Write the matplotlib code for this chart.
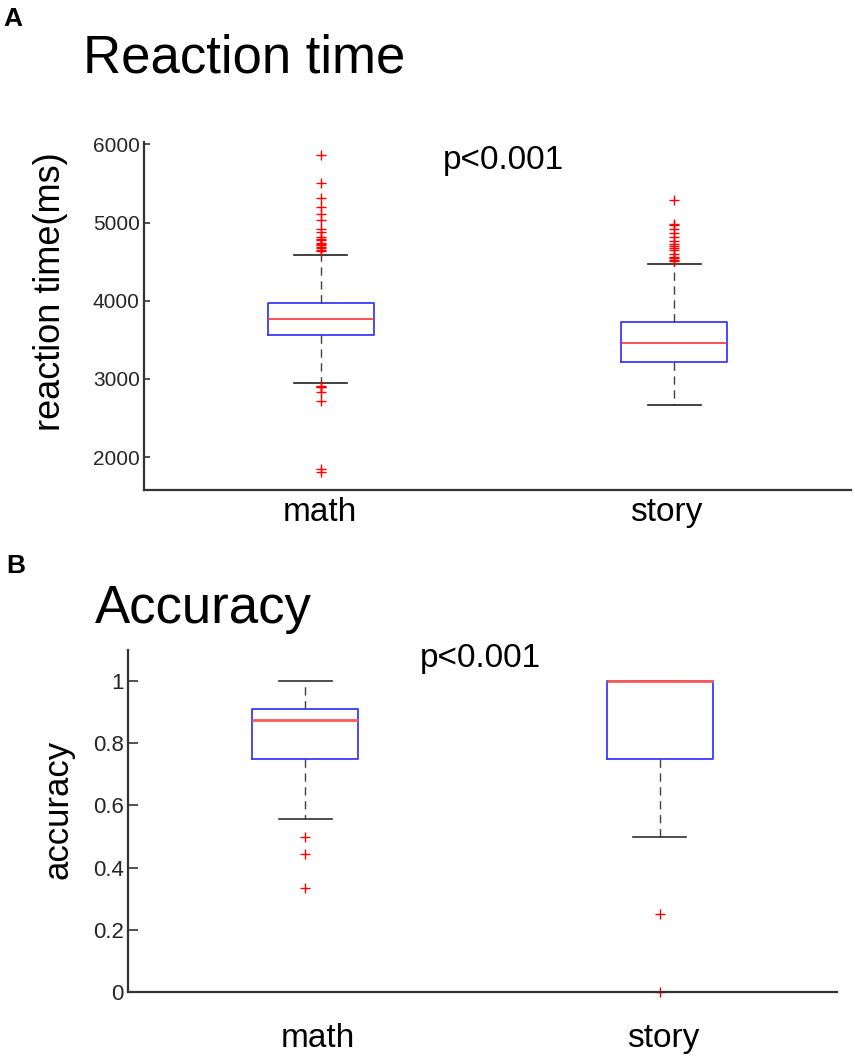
import matplotlib
matplotlib.use("Agg")
import matplotlib.pyplot as plt
import matplotlib.transforms as mtransforms

plt.rcParams['font.family'] = ['Liberation Sans', 'DejaVu Sans']

# ---------------- data ----------------
categories = ["math", "story"]

# Panel A: reaction time (ms)
rt_whislo = [2945, 2670]
rt_q1 = [3565, 3216]
rt_med = [3761, 3459]
rt_q3 = [3974, 3727]
rt_whishi = [4588, 4469]
rt_fliers_math = [5864, 5505, 5317, 5193, 5112, 5027, 4917, 4873, 4810, 4789,
                  4770, 4738, 4720, 4707, 4690, 4673, 4650, 4630,
                  2913, 2900, 2891, 2832, 2712, 1846, 1804]
rt_fliers_story = [5292, 4980, 4963, 4917, 4866, 4815, 4758, 4730, 4703, 4673,
                   4642, 4600, 4565, 4540, 4524, 4503]
rt_ticks = [2000, 3000, 4000, 5000, 6000]

# Panel B: accuracy
acc_whislo = [0.555, 0.5]
acc_q1 = [0.75, 0.75]
acc_med = [0.874, 1.0]
acc_q3 = [0.91, 1.0]
acc_whishi = [1.0, 1.0]
acc_fliers_math = [0.5, 0.444, 0.333]
acc_fliers_story = [0.25, 0.0]
acc_ticks = [0, 0.2, 0.4, 0.6, 0.8, 1]
acc_ticklabels = ["0", "0.2", "0.4", "0.6", "0.8", "1"]

W, H = 855, 1056
fig = plt.figure(figsize=(W / 100, H / 100), dpi=100)


def px_axes(x0, x1, ytop, ybot):
    return fig.add_axes([x0 / W, 1 - ybot / H, (x1 - x0) / W, (ybot - ytop) / H])


def make_stats(whislo, q1, med, q3, whishi, fliers):
    stats = []
    for i in range(len(q1)):
        stats.append(dict(whislo=whislo[i], q1=q1[i], med=med[i], q3=q3[i],
                          whishi=whishi[i], fliers=fliers[i], label=categories[i]))
    return stats


def style_axes(ax, ticksize, ticklen, xpad):
    for s in ['top', 'right']:
        ax.spines[s].set_visible(False)
    for s in ['left', 'bottom']:
        ax.spines[s].set_color('#333333')
        ax.spines[s].set_linewidth(1.6)
    ax.tick_params(axis='y', direction='in', length=ticklen, width=1.2,
                   color='#333333', labelsize=ticksize, labelcolor='#262626', pad=3)
    ax.tick_params(axis='x', length=0, labelsize=24, labelcolor='black', pad=xpad)


def shift_xlabels(ax, offsets_px):
    for lab, dx in zip(ax.get_xticklabels(), offsets_px):
        lab.set_transform(lab.get_transform() +
                          mtransforms.ScaledTranslation(dx / 100, 0, fig.dpi_scale_trans))


# ---------------- Panel A ----------------
axA = px_axes(144, 851, 142, 490)
statsA = make_stats(rt_whislo, rt_q1, rt_med, rt_q3, rt_whishi,
                    [rt_fliers_math, rt_fliers_story])
axA.bxp(statsA, positions=[1, 2], widths=0.3, capwidths=0.15,
        boxprops=dict(color='#3a3aff', linewidth=1.3),
        medianprops=dict(color='#ff3030', linewidth=1.2),
        whiskerprops=dict(color='#404040', linewidth=1.0, linestyle=(0, (6, 4))),
        capprops=dict(color='#202020', linewidth=1.2),
        flierprops=dict(marker='+', markeredgecolor='red', markersize=7,
                        markeredgewidth=1.0, linestyle='none'))
axA.set_xlim(0.5, 2.5)
axA.set_ylim(1578, 6030)
axA.set_yticks(rt_ticks)
axA.set_yticklabels([str(t) for t in rt_ticks])
axA.set_xticks([1, 2])
axA.set_xticklabels(categories)
style_axes(axA, 15, 4, 5)
shift_xlabels(axA, [-1, -8])

# ---------------- Panel B ----------------
axB = px_axes(128, 837, 650, 992)
statsB = make_stats(acc_whislo, acc_q1, acc_med, acc_q3, acc_whishi,
                    [acc_fliers_math, acc_fliers_story])
axB.bxp(statsB, positions=[1, 2], widths=0.3, capwidths=0.15,
        boxprops=dict(color='#3a3aff', linewidth=1.3),
        medianprops=dict(color='#ff5a5a', linewidth=2.0, zorder=3),
        whiskerprops=dict(color='#404040', linewidth=1.0, linestyle=(0, (6, 4))),
        capprops=dict(color='#303030', linewidth=1.2),
        flierprops=dict(marker='+', markeredgecolor='red', markersize=7,
                        markeredgewidth=1.0, linestyle='none'))
axB.set_xlim(0.5, 2.5)
axB.set_ylim(0, 1.1)
axB.set_yticks(acc_ticks)
axB.set_yticklabels(acc_ticklabels)
axB.set_xticks([1, 2])
axB.set_xticklabels(categories)
style_axes(axB, 16, 7, 22.5)
shift_xlabels(axB, [13, 4])
for ln in axB.lines:
    ln.set_clip_on(False)

# ---------------- texts ----------------
fig.text(3 / W, 1 - 26 / H, "A", fontsize=19, fontweight='bold', va='baseline', ha='left')
fig.text(6 / W, 1 - 573 / H, "B", fontsize=19, fontweight='bold', va='baseline', ha='left')
fig.text(83 / W, 1 - 72.7 / H, "Reaction time", fontsize=38, va='baseline', ha='left')
fig.text(95 / W, 1 - 622.7 / H, "Accuracy", fontsize=38, va='baseline', ha='left')
fig.text(443 / W, 1 - 169 / H, "p<0.001", fontsize=24, va='baseline', ha='left')
fig.text(420 / W, 1 - 666.7 / H, "p<0.001", fontsize=24, va='baseline', ha='left')
fig.text(68 / W, 1 - 292 / H, "reaction time(ms)", fontsize=26, rotation=90,
         va='center', ha='right')
fig.text(74 / W, 1 - 809 / H, "accuracy", fontsize=25, rotation=90,
         va='center', ha='right')

fig.savefig("out.png", dpi=100)
